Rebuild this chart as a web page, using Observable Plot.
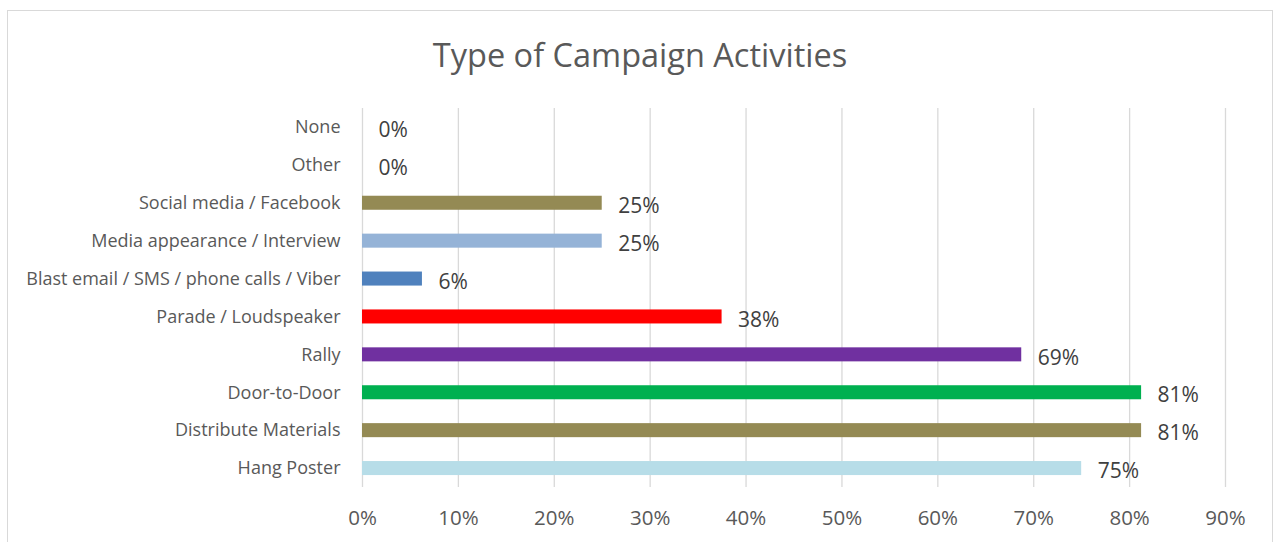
<!DOCTYPE html>
<html>
<head>
<meta charset="utf-8">
<script src="https://cdn.jsdelivr.net/npm/d3@7"></script>
<script src="https://cdn.jsdelivr.net/npm/@observablehq/plot@0.6"></script>
<style>
  html, body { margin: 0; padding: 0; background: #fff; }
  #wrap { position: relative; width: 1276px; height: 542px; overflow: hidden; font-family: "Open Sans", sans-serif; }
  #frame { position: absolute; left: 7px; top: 10px; width: 1266px; height: 560px; border: 1px solid #d9d9d9; box-sizing: border-box; }
  #title { position: absolute; left: 0; top: 33px; width: 1280px; text-align: center; font-size: 32.5px; color: #595959; line-height: 44px; }
  #chart { position: absolute; left: 0; top: 100px; }
</style>
</head>
<body>
<div id="wrap">
  <div id="frame"></div>
  <div id="title">Type of Campaign Activities</div>
  <div id="chart"></div>
</div>
<script>
// Categories listed top to bottom
const categories = [
  "None",
  "Other",
  "Social media / Facebook",
  "Media appearance / Interview",
  "Blast email / SMS / phone calls / Viber",
  "Parade / Loudspeaker",
  "Rally",
  "Door-to-Door",
  "Distribute Materials",
  "Hang Poster"
];
const values = [0, 0, 0.25, 0.25, 0.0625, 0.375, 0.6875, 0.8125, 0.8125, 0.75];
const barColors = ["#948a54", "#948a54", "#948a54", "#95b3d7", "#4f81bd", "#ff0000", "#7030a0", "#00b050", "#948a54", "#b7dde8"];
const xTicks = [0, 0.1, 0.2, 0.3, 0.4, 0.5, 0.6, 0.7, 0.8, 0.9];

const data = categories.map((c, i) => ({ category: c, value: values[i], color: barColors[i] }));
const pct = d => Math.round(d * 100) + "%";

const chart = Plot.plot({
  width: 1276,
  height: 442,
  marginLeft: 362,
  marginRight: 51,
  marginTop: 8,
  marginBottom: 55,
  style: { fontFamily: "'Open Sans', sans-serif", background: "transparent", overflow: "visible" },
  x: { domain: [0, 0.9], label: null },
  y: { domain: categories, paddingInner: 0.63, paddingOuter: 0.315, round: false, label: null },
  marks: [
    Plot.gridX(xTicks, { stroke: "#d9d9d9", strokeOpacity: 1, strokeWidth: 1.3 }),
    Plot.barX(data.filter(d => d.value > 0), { x: "value", y: "category", fill: "color" }),
    Plot.text(data, { x: "value", y: "category", text: d => pct(d.value), textAnchor: "start", dx: 16, dy: 3, fontSize: 21, fill: "#404040" }),
    Plot.axisX(xTicks, { tickSize: 0, tickPadding: 23, tickFormat: pct, fontSize: 20.5, fill: "#595959", label: null }),
    Plot.axisY({ tickSize: 0, tickPadding: 22, fontSize: 18, fill: "#595959", label: null })
  ]
});
document.getElementById("chart").appendChild(chart);
</script>
</body>
</html>
